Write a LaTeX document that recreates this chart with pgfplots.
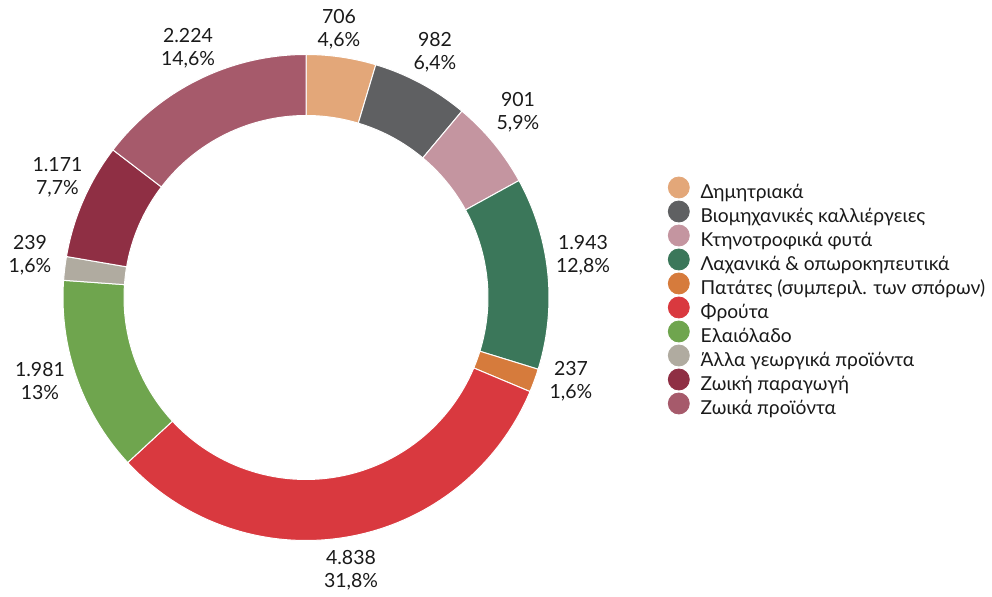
\documentclass[border=0pt]{standalone}
\usepackage{pgfplots}
\pgfplotsset{compat=1.18}
\usepackage{pgfplotstable}
\usepackage{fontspec}
\setmainfont{Lato}

\definecolor{cDim}{HTML}{E3A779}
\definecolor{cBio}{HTML}{5F6062}
\definecolor{cKtn}{HTML}{C495A0}
\definecolor{cLax}{HTML}{3B775A}
\definecolor{cPat}{HTML}{D67B3C}
\definecolor{cFro}{HTML}{D9393F}
\definecolor{cEla}{HTML}{6FA54E}
\definecolor{cAll}{HTML}{B0ABA0}
\definecolor{cZpa}{HTML}{8F2F44}
\definecolor{cZpr}{HTML}{A65A6B}
\definecolor{txt}{HTML}{1A1A1A}

% values in the ring, clockwise from the top
\pgfplotstableread{
value col
706  cDim
982  cBio
901  cKtn
1943 cLax
237  cPat
4838 cFro
1981 cEla
239  cAll
1171 cZpa
2224 cZpr
}\donut

% ring radii in picture pixels (1px = 0.5pt)
\def\Ro{243}
\def\Ri{182}

\pgfplotstablegetrowsof{\donut}
\pgfmathtruncatemacro\nrows{\pgfplotsretval-1}
\def\total{0}
\pgfplotsforeachungrouped \i in {0,...,\nrows}{%
  \pgfplotstablegetelem{\i}{value}\of\donut
  \pgfmathsetmacro\total{\total+\pgfplotsretval}}
\def\cum{0}
\pgfplotsforeachungrouped \i in {0,...,\nrows}{%
  \pgfplotstablegetelem{\i}{value}\of\donut
  \pgfmathsetmacro\aS{90-360*(\cum/\total)}
  \pgfmathsetmacro\cum{\cum+\pgfplotsretval}
  \pgfmathsetmacro\aE{90-360*(\cum/\total)}
  \pgfplotstablegetelem{\i}{col}\of\donut
  \expandafter\xdef\csname segS\i\endcsname{\aS}
  \expandafter\xdef\csname segE\i\endcsname{\aE}
  \colorlet{seg\i}{\pgfplotsretval}}

% #1 start angle, #2 end angle, #3 colour name
\newcommand\ringseg[3]{%
  \fill[fill=#3, draw=white, line width=0.5pt]
    (axis cs:{\Ro*cos(#1)},{\Ro*sin(#1)})
    arc[start angle=#1, end angle=#2, radius=\Ro*0.5pt]
    -- (axis cs:{\Ri*cos(#2)},{\Ri*sin(#2)})
    arc[start angle=#2, end angle=#1, radius=\Ri*0.5pt] -- cycle;}

\newcommand\dotentry[2]{%
  \addlegendimage{legend image code/.code={%
    \fill[#1, overlay] (5.25pt,3.4pt) circle (5.25pt);
    \path (0pt,0pt) (10.5pt,6pt);}}
  \addlegendentry{#2}}

\begin{document}
\begin{tikzpicture}
\begin{axis}[
  x=0.5pt, y=0.5pt,
  xmin=-306, xmax=686,
  ymin=-296.5, ymax=297.5,
  hide axis,
  clip=false,
  legend cell align=left,
  legend style={
    draw=none, fill=none,
    at={(axis cs:361.5,116)}, anchor=north west,
    font=\fontsize{9.6}{11}\selectfont,
    text=txt,
    inner sep=0pt,
    row sep=0pt,
    nodes={text height=7.1pt, text depth=2.5pt, inner ysep=1pt, inner xsep=0pt},
    /tikz/every odd column/.append style={column sep=5.5pt},
  },
]
\path (axis cs:-306,-296.5) (axis cs:686,297.5);

\pgfplotsinvokeforeach{0,...,9}{%
  \ringseg{\csname segS#1\endcsname}{\csname segE#1\endcsname}{seg#1}}

\dotentry{cDim}{Δημητριακά}
\dotentry{cBio}{Βιομηχανικές καλλιέργειες}
\dotentry{cKtn}{Κτηνοτροφικά φυτά}
\dotentry{cLax}{Λαχανικά \& οπωροκηπευτικά}
\dotentry{cPat}{Πατάτες (συμπεριλ. των σπόρων)}
\dotentry{cFro}{Φρούτα}
\dotentry{cEla}{Ελαιόλαδο}
\dotentry{cAll}{Άλλα γεωργικά προϊόντα}
\dotentry{cZpa}{Ζωική παραγωγή}
\dotentry{cZpr}{Ζωικά προϊόντα}

\begin{scope}[every node/.style={align=center, text=txt,
    font=\fontsize{9.75}{11.5}\selectfont}]
\node at (axis cs:33,268.5)     {706\\4,6\%};
\node at (axis cs:129,245.5)    {982\\6,4\%};
\node at (axis cs:212,185.5)    {901\\5,9\%};
\node at (axis cs:277,42.5)     {1.943\\12,8\%};
\node at (axis cs:265,-83.5)    {237\\1,6\%};
\node at (axis cs:45,-272.5)    {4.838\\31,8\%};
\node at (axis cs:-266,-83.5)   {1.981\\13\%};
\node at (axis cs:-276,42.5)    {239\\1,6\%};
\node at (axis cs:-248.5,120)   {1.171\\7,7\%};
\node at (axis cs:-118,249.5)   {2.224\\14,6\%};
\end{scope}
\end{axis}
\end{tikzpicture}
\end{document}
